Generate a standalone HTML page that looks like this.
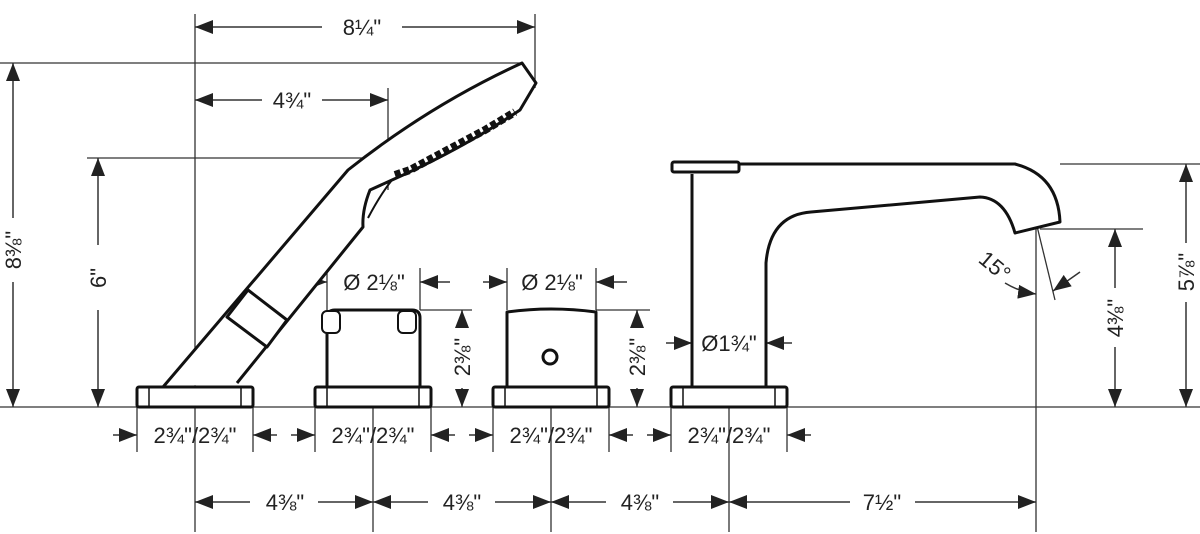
<!DOCTYPE html>
<html><head><meta charset="utf-8"><style>
html,body{margin:0;padding:0;background:#fff;width:1200px;height:534px;overflow:hidden}
svg{display:block}
text{font-family:"Liberation Sans",sans-serif;fill:#222;font-size:22px}
</style></head><body>
<svg width="1200" height="534" viewBox="0 0 1200 534" xmlns="http://www.w3.org/2000/svg">
<defs>
<marker id="a" viewBox="0 0 18 14" refX="18" refY="7" markerWidth="18" markerHeight="14" markerUnits="userSpaceOnUse" orient="auto"><path d="M0,0L18,7L0,14z" fill="#222"/></marker>
</defs>
<g stroke="#333" stroke-width="1.3" fill="none">
<line x1="0" y1="407" x2="1200" y2="407"/>
<line x1="0" y1="63" x2="520" y2="63"/>
<line x1="87" y1="158" x2="400" y2="158"/>
<line x1="195" y1="14" x2="195" y2="532"/>
<line x1="535" y1="14" x2="535" y2="88"/>
<line x1="388" y1="88" x2="388" y2="190"/>
<line x1="373" y1="407" x2="373" y2="532"/>
<line x1="551" y1="407" x2="551" y2="532"/>
<line x1="729" y1="407" x2="729" y2="532"/>
<line x1="1036" y1="229" x2="1036" y2="532"/>
<line x1="1040" y1="229" x2="1143" y2="229"/>
<line x1="1060" y1="164" x2="1200" y2="164"/>
<line x1="1036" y1="222" x2="1055" y2="300"/>
<line x1="327" y1="268" x2="327" y2="310"/>
<line x1="420" y1="268" x2="420" y2="310"/>
<line x1="507" y1="268" x2="507" y2="310"/>
<line x1="596" y1="268" x2="596" y2="310"/>
<line x1="420" y1="310" x2="472" y2="310"/>
<line x1="596" y1="310" x2="650" y2="310"/>
<line x1="137" y1="407" x2="137" y2="452"/><line x1="253" y1="407" x2="253" y2="452"/>
<line x1="315" y1="407" x2="315" y2="452"/><line x1="431" y1="407" x2="431" y2="452"/>
<line x1="493" y1="407" x2="493" y2="452"/><line x1="609" y1="407" x2="609" y2="452"/>
<line x1="671" y1="407" x2="671" y2="452"/><line x1="787" y1="407" x2="787" y2="452"/>
</g>
<g stroke="#333" stroke-width="1.5" fill="none" marker-end="url(#a)">
<line x1="322" y1="27" x2="195" y2="27"/><line x1="402" y1="27" x2="535" y2="27"/>
<line x1="262" y1="100" x2="195" y2="100"/><line x1="322" y1="100" x2="388" y2="100"/>
<line x1="13" y1="218" x2="13" y2="63"/><line x1="13" y1="282" x2="13" y2="407"/>
<line x1="98" y1="245" x2="98" y2="158"/><line x1="98" y1="310" x2="98" y2="407"/>
<line x1="303" y1="282" x2="327" y2="282"/><line x1="450" y1="282" x2="420" y2="282"/>
<line x1="483" y1="282" x2="507" y2="282"/><line x1="627" y1="282" x2="596" y2="282"/>
<line x1="462" y1="326" x2="462" y2="310"/><line x1="462" y1="388" x2="462" y2="407"/>
<line x1="637" y1="326" x2="637" y2="310"/><line x1="637" y1="388" x2="637" y2="407"/>
<line x1="666" y1="343" x2="692" y2="343"/><line x1="792" y1="343" x2="766" y2="343"/>
<line x1="1115" y1="288" x2="1115" y2="229"/><line x1="1115" y1="347" x2="1115" y2="407"/>
<line x1="1186" y1="243" x2="1186" y2="164"/><line x1="1186" y1="302" x2="1186" y2="407"/>
<path d="M1005,283 Q1020,292 1036,294"/>
<line x1="1080" y1="272" x2="1053" y2="291"/>
<line x1="113" y1="435" x2="137" y2="435"/><line x1="277" y1="435" x2="253" y2="435"/>
<line x1="291" y1="435" x2="315" y2="435"/><line x1="455" y1="435" x2="431" y2="435"/>
<line x1="469" y1="435" x2="493" y2="435"/><line x1="633" y1="435" x2="609" y2="435"/>
<line x1="647" y1="435" x2="671" y2="435"/><line x1="811" y1="435" x2="787" y2="435"/>
<line x1="250" y1="502" x2="195" y2="502"/><line x1="318" y1="502" x2="373" y2="502"/>
<line x1="428" y1="502" x2="373" y2="502"/><line x1="495" y1="502" x2="551" y2="502"/>
<line x1="606" y1="502" x2="551" y2="502"/><line x1="673" y1="502" x2="729" y2="502"/>
<line x1="850" y1="502" x2="729" y2="502"/><line x1="915" y1="502" x2="1036" y2="502"/>
</g>
<g stroke="#111" stroke-width="3" fill="#fff" stroke-linejoin="round">
<path d="M163,387 L348,170 Q430,105 522,63 L536,83 L520,110 Q460,150 392,180 L370,190 Q362,210 363,227 L237,383"/>
<path d="M248,290 L287,320 L267,347 L227,317 Z"/>
<path d="M392,180 Q380,195 368,218" fill="none" stroke-width="2"/>
<path d="M395,175 L410,170 L425,162 L440,154 L455,146 L470,138 L485,130 L500,121 L515,112" fill="none" stroke-width="8" stroke-dasharray="6 3"/>
<rect x="137" y="387" width="116" height="20" rx="2"/>
<line x1="149" y1="387" x2="149" y2="407" stroke-width="1.5"/><line x1="241" y1="387" x2="241" y2="407" stroke-width="1.5"/>
<path d="M327,387 L327,318 Q327,310 335,310 L412,310 Q420,310 420,318 L420,387"/>
<rect x="322" y="311" width="18" height="22" rx="5" stroke-width="2"/>
<rect x="398" y="311" width="18" height="22" rx="5" stroke-width="2"/>
<rect x="315" y="387" width="116" height="20" rx="2"/>
<line x1="327" y1="387" x2="327" y2="407" stroke-width="1.5"/><line x1="419" y1="387" x2="419" y2="407" stroke-width="1.5"/>
<path d="M507,387 L507,312 Q551,306 596,312 L596,387"/>
<circle cx="550" cy="357" r="7"/>
<rect x="493" y="387" width="116" height="20" rx="2"/>
<line x1="505" y1="387" x2="505" y2="407" stroke-width="1.5"/><line x1="597" y1="387" x2="597" y2="407" stroke-width="1.5"/>
<path d="M692,387 L692,174 M766,387 L766,263 Q770,215 811,212 L980,197 Q1005,198 1015,233 L1060,222 Q1058,175 1015,164 L740,164"/>
<rect x="672" y="162" width="67" height="10" rx="2"/>
<rect x="671" y="387" width="116" height="20" rx="2"/>
<line x1="683" y1="387" x2="683" y2="407" stroke-width="1.5"/><line x1="775" y1="387" x2="775" y2="407" stroke-width="1.5"/>
</g>
<text x="362" y="35" text-anchor="middle">8¼"</text>
<text x="292" y="108" text-anchor="middle">4¾"</text>
<text transform="translate(21,250) rotate(-90)" text-anchor="middle">8⅜"</text>
<text transform="translate(106,278) rotate(-90)" text-anchor="middle">6"</text>
<text x="374" y="290" text-anchor="middle">Ø 2⅛"</text>
<text x="552" y="290" text-anchor="middle">Ø 2⅛"</text>
<text transform="translate(470,357) rotate(-90)" text-anchor="middle">2⅜"</text>
<text transform="translate(645,357) rotate(-90)" text-anchor="middle">2⅜"</text>
<text x="729" y="351" text-anchor="middle">Ø1¾"</text>
<text transform="translate(990,272) rotate(40)" text-anchor="middle">15°</text>
<text transform="translate(1123,318) rotate(-90)" text-anchor="middle">4⅜"</text>
<text transform="translate(1194,272) rotate(-90)" text-anchor="middle">5⅞"</text>
<text x="195" y="443" text-anchor="middle">2¾"/2¾"</text>
<text x="373" y="443" text-anchor="middle">2¾"/2¾"</text>
<text x="551" y="443" text-anchor="middle">2¾"/2¾"</text>
<text x="729" y="443" text-anchor="middle">2¾"/2¾"</text>
<text x="285" y="510" text-anchor="middle">4⅜"</text>
<text x="462" y="510" text-anchor="middle">4⅜"</text>
<text x="640" y="510" text-anchor="middle">4⅜"</text>
<text x="882" y="510" text-anchor="middle">7½"</text>
</svg>
</body></html>
